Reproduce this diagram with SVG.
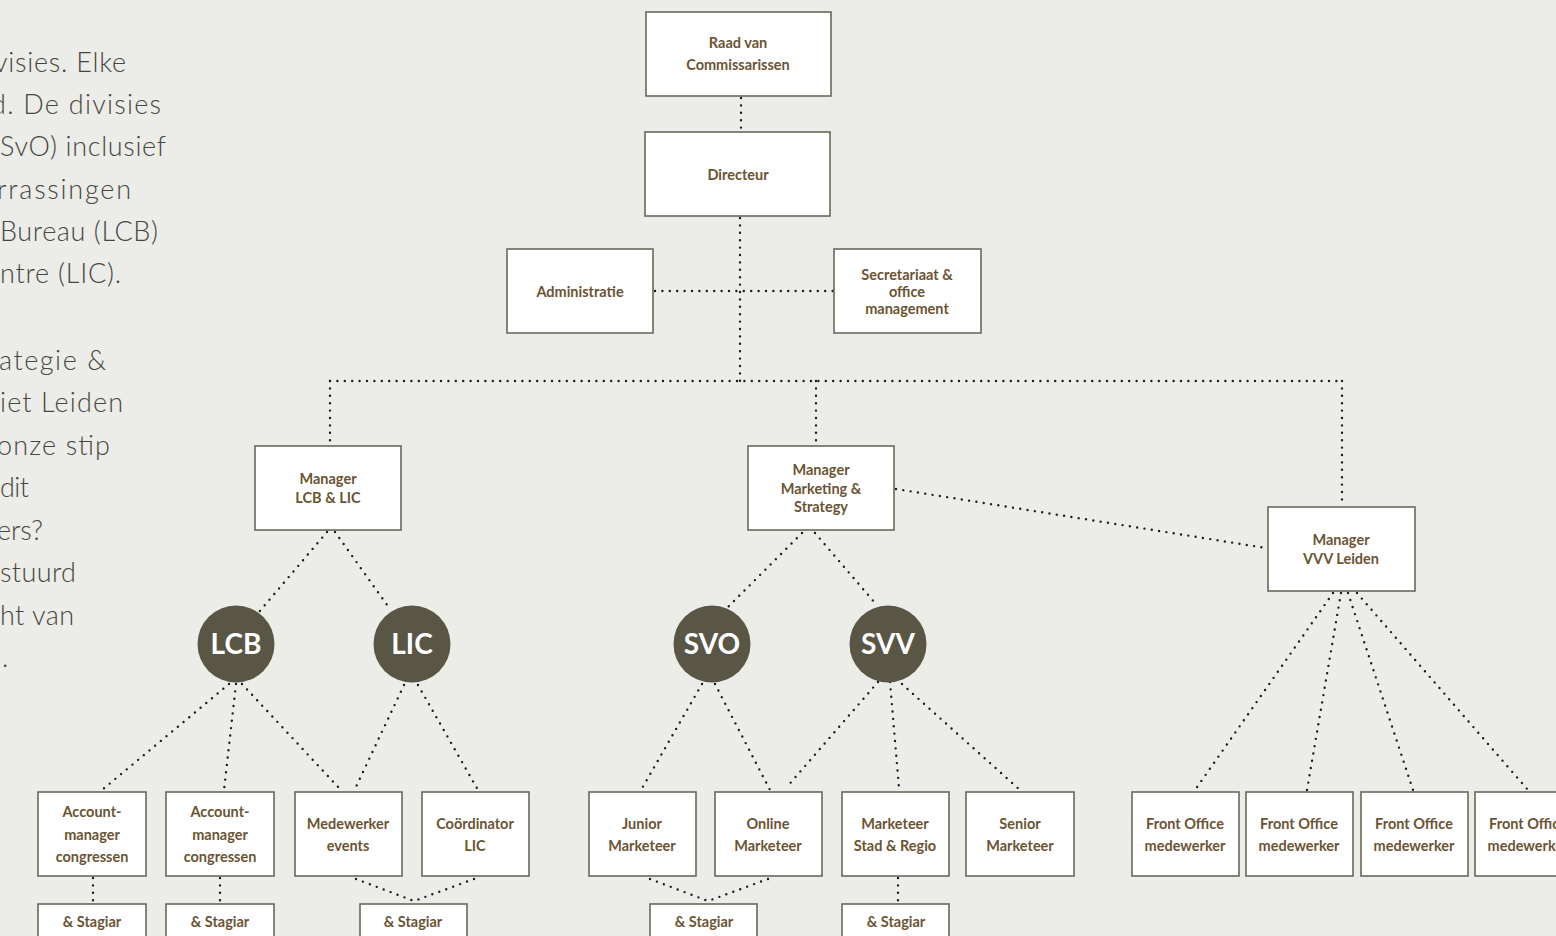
<svg xmlns="http://www.w3.org/2000/svg" width="1556" height="936" viewBox="0 0 1556 936">
<style>
.bg{fill:#ecece8}
.box{fill:#ffffff;stroke:#6b6759;stroke-width:1.6}
.lbl{font-family:Lato,"Noto Sans",sans-serif;font-weight:700;font-size:14.5px;fill:#6b5433;text-anchor:middle}
.circ{fill:#595646}
.clbl{font-family:Lato,"Noto Sans",sans-serif;font-weight:700;font-size:28px;fill:#ffffff;text-anchor:middle}
.con{fill:none;stroke:#1c1c1c;stroke-width:2.4;stroke-linecap:round;stroke-dasharray:0 7.4}
.para{font-family:Lato,"Noto Sans",sans-serif;font-weight:300;font-size:27px;fill:#47473f}
</style>
<rect class="bg" x="0" y="0" width="1556" height="936"/>

<g id="intro-text">
<text class="para" x="-6" y="72" textLength="132" lengthAdjust="spacing">visies. Elke</text>
<text class="para" x="-9" y="114" textLength="170" lengthAdjust="spacing">d. De divisies</text>
<text class="para" x="0" y="156" textLength="166" lengthAdjust="spacing">SvO) inclusief</text>
<text class="para" x="-3" y="199" textLength="134" lengthAdjust="spacing">rrassingen</text>
<text class="para" x="0" y="241" textLength="158" lengthAdjust="spacing">Bureau (LCB)</text>
<text class="para" x="0" y="283" textLength="121" lengthAdjust="spacing">ntre (LIC).</text>
<text class="para" x="-1" y="370" textLength="107" lengthAdjust="spacing">ategie &amp;</text>
<text class="para" x="0" y="412" textLength="123" lengthAdjust="spacing">iet Leiden</text>
<text class="para" x="-3" y="455" textLength="113" lengthAdjust="spacing">onze stip</text>
<text class="para" x="0" y="497" textLength="29" lengthAdjust="spacing">dit</text>
<text class="para" x="-3" y="540" textLength="46" lengthAdjust="spacing">ers?</text>
<text class="para" x="0" y="582" textLength="76" lengthAdjust="spacing">stuurd</text>
<text class="para" x="0" y="625" textLength="74" lengthAdjust="spacing">ht van</text>
<text class="para" x="2" y="667">.</text>
</g>

<g id="connectors">
<line class="con" x1="741" y1="98" x2="741" y2="132"/>
<line class="con" x1="740" y1="218" x2="740" y2="381"/>
<line class="con" x1="655" y1="291" x2="834" y2="291"/>
<line class="con" x1="330" y1="381" x2="1342" y2="381"/>
<line class="con" x1="330" y1="381" x2="330" y2="444"/>
<line class="con" x1="816" y1="381" x2="816" y2="444"/>
<line class="con" x1="1342" y1="381" x2="1342" y2="505"/>
<line class="con" x1="896" y1="489" x2="1266" y2="548"/>
<line class="con" x1="327" y1="532" x2="259" y2="612"/>
<line class="con" x1="335" y1="532" x2="390" y2="609"/>
<line class="con" x1="802" y1="533" x2="726" y2="609"/>
<line class="con" x1="815" y1="533" x2="875" y2="603"/>
<line class="con" x1="229" y1="684" x2="102" y2="790"/>
<line class="con" x1="236" y1="684" x2="224" y2="790"/>
<line class="con" x1="242" y1="684" x2="340" y2="789"/>
<line class="con" x1="404" y1="685" x2="355" y2="789"/>
<line class="con" x1="418" y1="685" x2="478" y2="790"/>
<line class="con" x1="702" y1="684" x2="641" y2="790"/>
<line class="con" x1="715" y1="684" x2="770" y2="790"/>
<line class="con" x1="878" y1="682" x2="786" y2="788"/>
<line class="con" x1="890" y1="682" x2="899" y2="788"/>
<line class="con" x1="902" y1="684" x2="1020" y2="790"/>
<line class="con" x1="1333" y1="593" x2="1195" y2="790"/>
<line class="con" x1="1341" y1="593" x2="1307" y2="790"/>
<line class="con" x1="1348" y1="593" x2="1413" y2="790"/>
<line class="con" x1="1357" y1="593" x2="1528" y2="790"/>
<line class="con" x1="93" y1="878" x2="93" y2="904"/>
<line class="con" x1="220" y1="878" x2="220" y2="904"/>
<line class="con" x1="356" y1="879" x2="414" y2="901"/>
<line class="con" x1="474" y1="879" x2="414" y2="901"/>
<line class="con" x1="650" y1="879" x2="708" y2="901"/>
<line class="con" x1="768" y1="879" x2="708" y2="901"/>
<line class="con" x1="898" y1="878" x2="898" y2="904"/>
</g>

<g id="raad"><rect class="box" x="646" y="12" width="185" height="84"/><text class="lbl" x="738" y="48">Raad van</text><text class="lbl" x="738" y="70">Commissarissen</text></g>
<g id="directeur"><rect class="box" x="645" y="132" width="185" height="84"/><text class="lbl" x="738" y="180">Directeur</text></g>
<g id="administratie"><rect class="box" x="507" y="249" width="146" height="84"/><text class="lbl" x="580" y="297">Administratie</text></g>
<g id="secretariaat"><rect class="box" x="834" y="249" width="147" height="84"/><text class="lbl" x="907" y="280">Secretariaat &amp;</text><text class="lbl" x="907" y="297">office</text><text class="lbl" x="907" y="314">management</text></g>
<g id="manager-lcb-lic"><rect class="box" x="255" y="446" width="146" height="84"/><text class="lbl" x="328" y="484">Manager</text><text class="lbl" x="328" y="503">LCB &amp; LIC</text></g>
<g id="manager-marketing"><rect class="box" x="748" y="446" width="146" height="84"/><text class="lbl" x="821" y="475">Manager</text><text class="lbl" x="821" y="494">Marketing &amp;</text><text class="lbl" x="821" y="512">Strategy</text></g>
<g id="manager-vvv"><rect class="box" x="1268" y="507" width="147" height="84"/><text class="lbl" x="1341" y="545">Manager</text><text class="lbl" x="1341" y="564">VVV Leiden</text></g>

<g id="lcb"><circle class="circ" cx="236" cy="644" r="38.5"/><text class="clbl" x="236" y="654">LCB</text></g>
<g id="lic"><circle class="circ" cx="412" cy="644" r="38.5"/><text class="clbl" x="412" y="654">LIC</text></g>
<g id="svo"><circle class="circ" cx="712" cy="644" r="38.5"/><text class="clbl" x="712" y="654">SVO</text></g>
<g id="svv"><circle class="circ" cx="888" cy="644" r="38.5"/><text class="clbl" x="888" y="654">SVV</text></g>

<g id="account1"><rect class="box" x="38" y="792" width="108" height="84"/><text class="lbl" x="92" y="817">Account-</text><text class="lbl" x="92" y="840">manager</text><text class="lbl" x="92" y="862">congressen</text></g>
<g id="account2"><rect class="box" x="166" y="792" width="108" height="84"/><text class="lbl" x="220" y="817">Account-</text><text class="lbl" x="220" y="840">manager</text><text class="lbl" x="220" y="862">congressen</text></g>
<g id="medewerker-events"><rect class="box" x="295" y="792" width="107" height="84"/><text class="lbl" x="348" y="829">Medewerker</text><text class="lbl" x="348" y="851">events</text></g>
<g id="coordinator-lic"><rect class="box" x="422" y="792" width="107" height="84"/><text class="lbl" x="475" y="829">Coördinator</text><text class="lbl" x="475" y="851">LIC</text></g>
<g id="junior"><rect class="box" x="589" y="792" width="107" height="84"/><text class="lbl" x="642" y="829">Junior</text><text class="lbl" x="642" y="851">Marketeer</text></g>
<g id="online"><rect class="box" x="715" y="792" width="107" height="84"/><text class="lbl" x="768" y="829">Online</text><text class="lbl" x="768" y="851">Marketeer</text></g>
<g id="stad-regio"><rect class="box" x="842" y="792" width="107" height="84"/><text class="lbl" x="895" y="829">Marketeer</text><text class="lbl" x="895" y="851">Stad &amp; Regio</text></g>
<g id="senior"><rect class="box" x="966" y="792" width="108" height="84"/><text class="lbl" x="1020" y="829">Senior</text><text class="lbl" x="1020" y="851">Marketeer</text></g>
<g id="fo1"><rect class="box" x="1132" y="792" width="107" height="84"/><text class="lbl" x="1185" y="829">Front Office</text><text class="lbl" x="1185" y="851">medewerker</text></g>
<g id="fo2"><rect class="box" x="1246" y="792" width="107" height="84"/><text class="lbl" x="1299" y="829">Front Office</text><text class="lbl" x="1299" y="851">medewerker</text></g>
<g id="fo3"><rect class="box" x="1361" y="792" width="107" height="84"/><text class="lbl" x="1414" y="829">Front Office</text><text class="lbl" x="1414" y="851">medewerker</text></g>
<g id="fo4"><rect class="box" x="1475" y="792" width="107" height="84"/><text class="lbl" x="1528" y="829">Front Office</text><text class="lbl" x="1528" y="851">medewerker</text></g>

<g id="stagiar1"><rect class="box" x="38" y="904" width="108" height="50"/><text class="lbl" x="92" y="927">&amp; Stagiar</text></g>
<g id="stagiar2"><rect class="box" x="166" y="904" width="108" height="50"/><text class="lbl" x="220" y="927">&amp; Stagiar</text></g>
<g id="stagiar3"><rect class="box" x="360" y="904" width="107" height="50"/><text class="lbl" x="413" y="927">&amp; Stagiar</text></g>
<g id="stagiar4"><rect class="box" x="650" y="904" width="107" height="50"/><text class="lbl" x="704" y="927">&amp; Stagiar</text></g>
<g id="stagiar5"><rect class="box" x="842" y="904" width="107" height="50"/><text class="lbl" x="896" y="927">&amp; Stagiar</text></g>
</svg>
